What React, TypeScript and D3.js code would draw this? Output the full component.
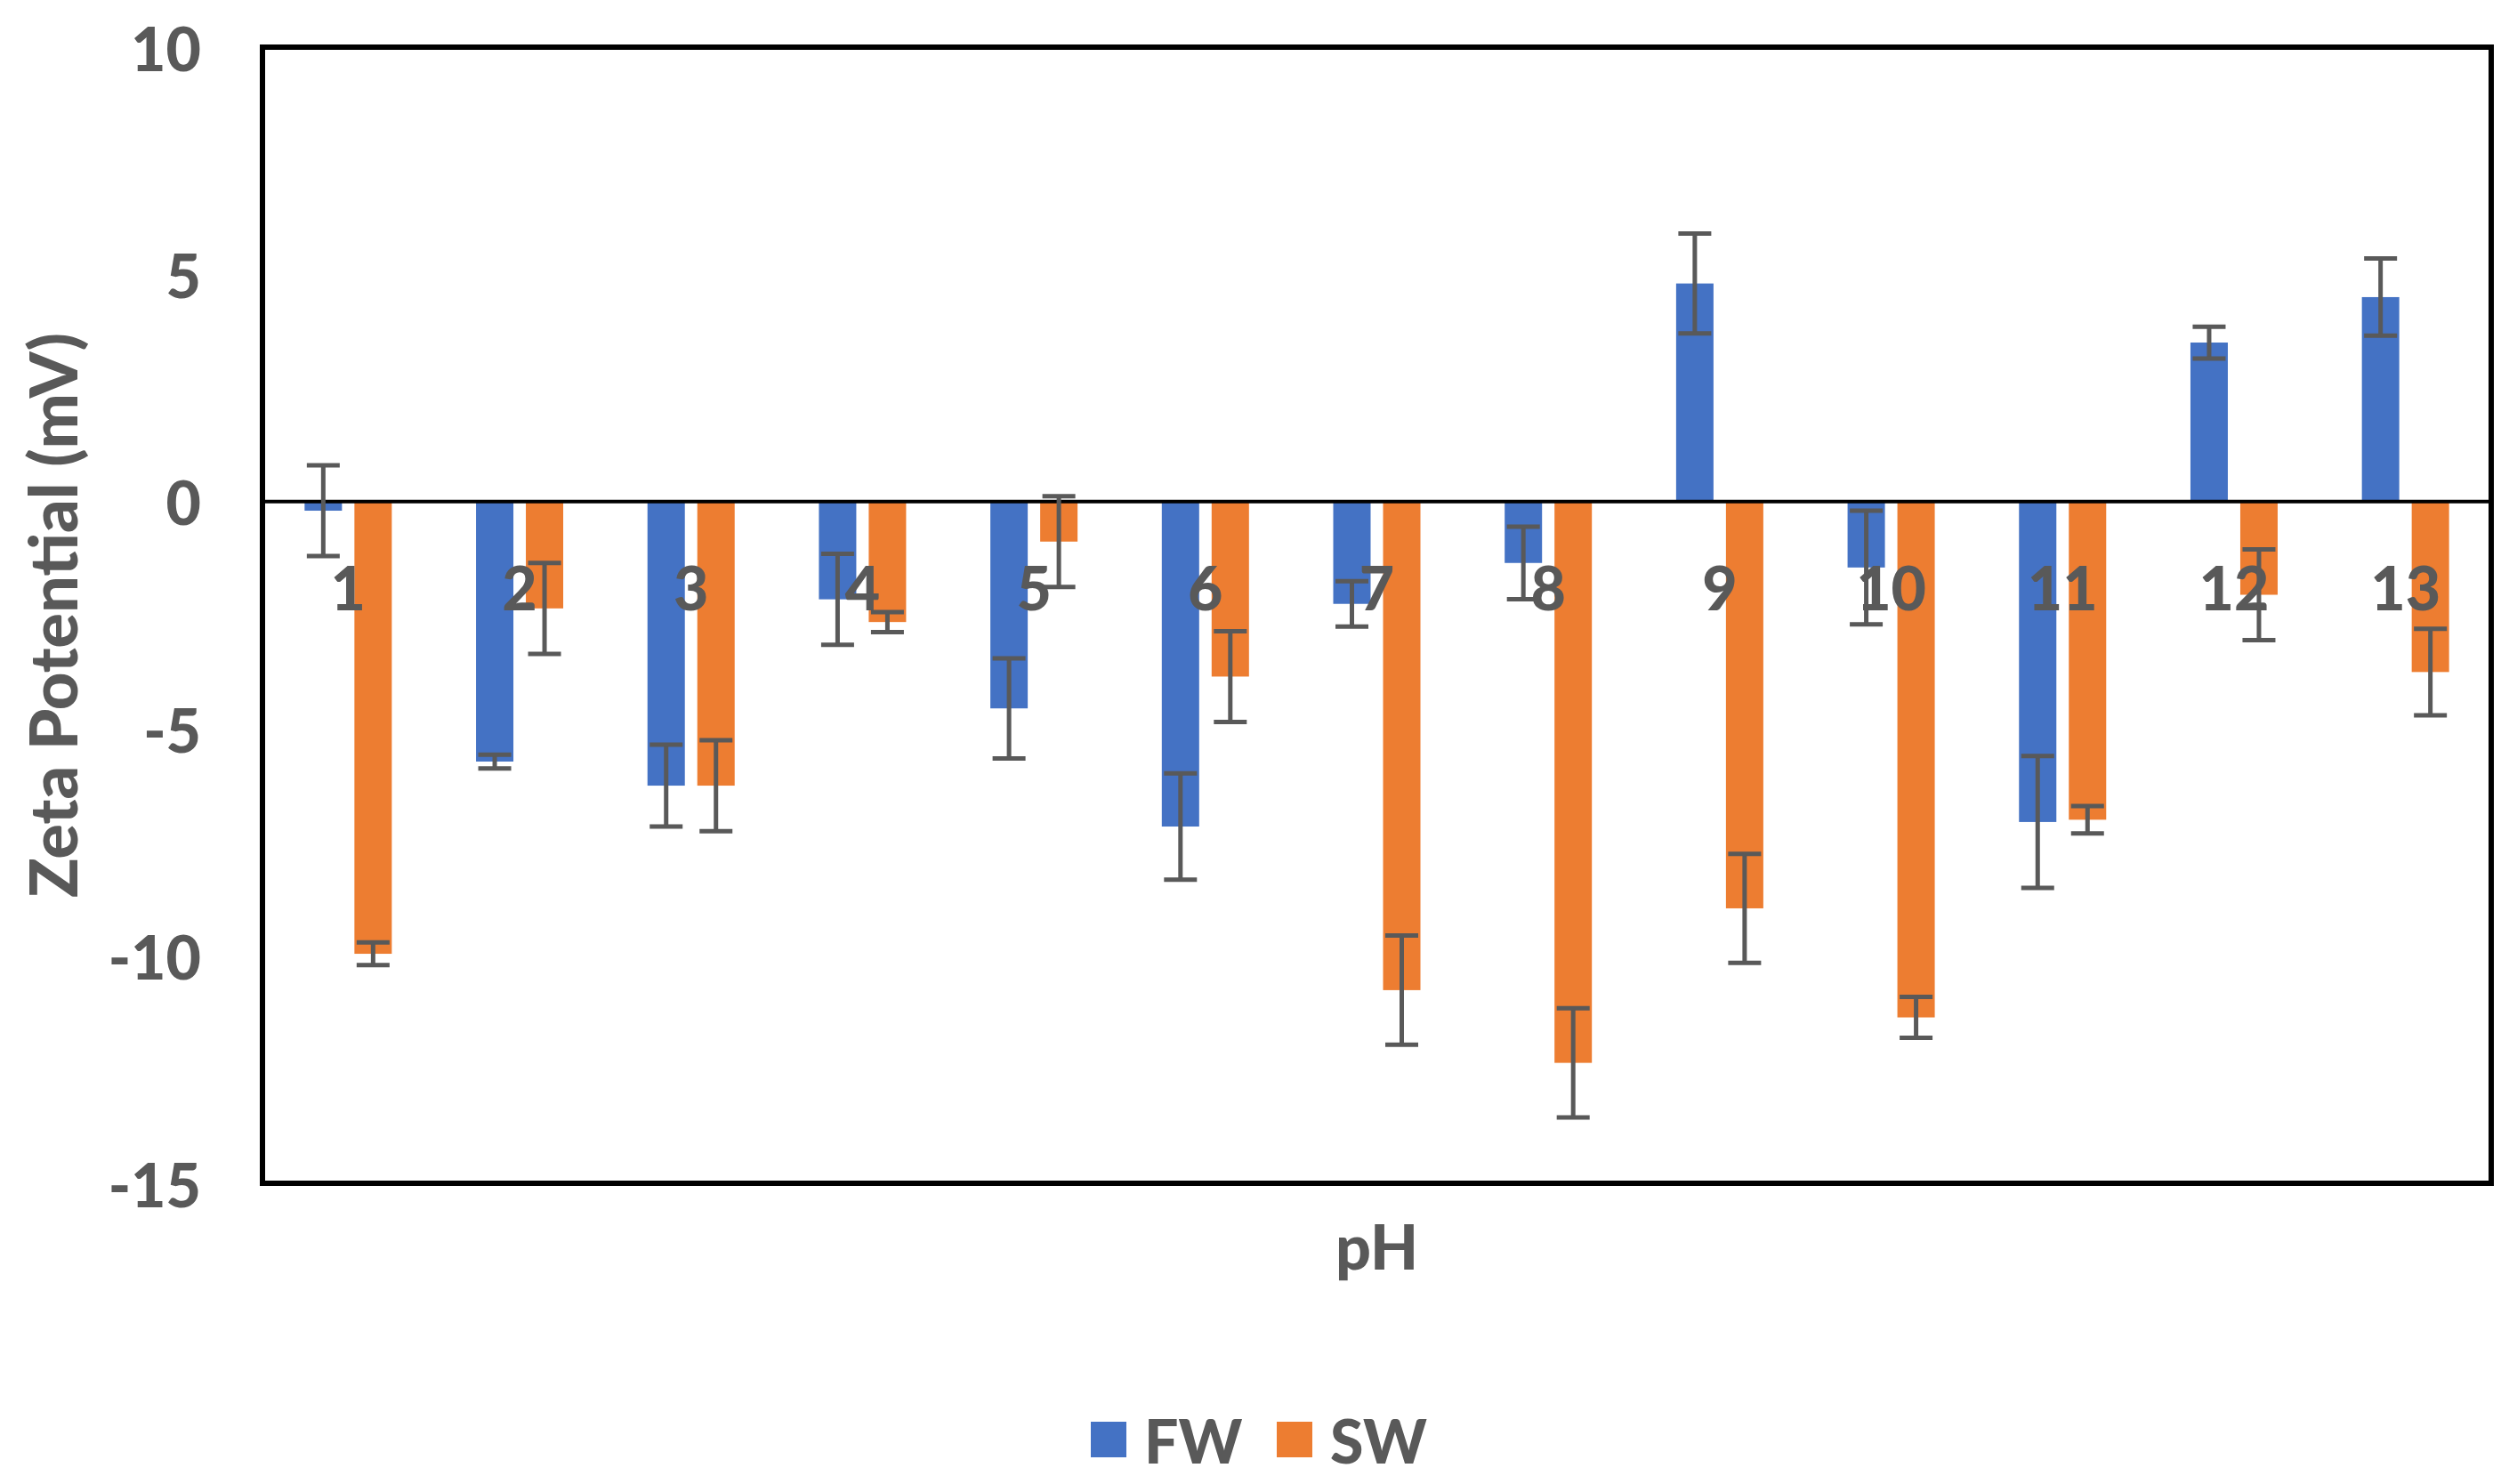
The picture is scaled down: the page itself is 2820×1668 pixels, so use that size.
import { useMemo } from 'react';
import { scaleBand, scaleLinear } from 'd3';

const categories = ['1', '2', '3', '4', '5', '6', '7', '8', '9', '10', '11', '12', '13'];
const series = ['FW', 'SW'];

const fwValues = [-0.2, -5.72, -6.25, -2.15, -4.55, -7.15, -2.25, -1.35, 4.8, -1.45, -7.05, 3.5, 4.5];
const fwErrors = [1.0, 0.15, 0.9, 1.0, 1.1, 1.17, 0.5, 0.8, 1.1, 1.25, 1.45, 0.35, 0.85];
const swValues = [-9.95, -2.35, -6.25, -2.65, -0.88, -3.85, -10.75, -12.35, -8.95, -11.35, -7.0, -2.05, -3.75];
const swErrors = [0.25, 1.0, 1.0, 0.22, 1.0, 1.0, 1.2, 1.2, 1.2, 0.45, 0.3, 1.0, 0.95];

const yTicks = [-15, -10, -5, 0, 5, 10];

const colors = { FW: '#4472C4', SW: '#ED7D31' };
const textColor = '#595959';
const font = 'Lato, "Open Sans", sans-serif';

const W = 2820,
  H = 1668;
const plot = { left: 295, right: 2800, top: 53, bottom: 1330 };

export default function App() {
  const x = useMemo(
    () => scaleBand().domain(categories).range([plot.left, plot.right]).padding(0),
    []
  );
  const x1 = useMemo(
    () => scaleBand().domain(series).range([-49, 49]).paddingInner(0.25).paddingOuter(0),
    []
  );
  const y = useMemo(
    () => scaleLinear().domain([-15, 10]).range([plot.bottom, plot.top]),
    []
  );

  const rows = series.map((s) => ({
    key: s,
    values: s === 'FW' ? fwValues : swValues,
    errors: s === 'FW' ? fwErrors : swErrors,
  }));

  const cap = 37;

  return (
    <svg
      width={W}
      height={H}
      style={{ position: 'absolute', left: 0, top: 0, background: '#fff' }}
      fontFamily={font}
      fontWeight={900}
    >
      <rect x={0} y={0} width={W} height={H} fill="#fff" />

      {/* bars */}
      {rows.map((r) =>
        categories.map((c, i) => {
          const v = r.values[i];
          const bx = (x(c) as number) + x.bandwidth() / 2 + (x1(r.key) as number);
          return (
            <rect
              key={r.key + c}
              x={bx}
              y={Math.min(y(v), y(0))}
              width={x1.bandwidth()}
              height={Math.abs(y(v) - y(0))}
              fill={colors[r.key as 'FW' | 'SW']}
            />
          );
        })
      )}

      {/* zero line */}
      <line x1={plot.left} x2={plot.right} y1={y(0)} y2={y(0)} stroke="#000" strokeWidth={4} />

      {/* category labels */}
      {categories.map((c) => (
        <text
          key={c}
          x={(x(c) as number) + x.bandwidth() / 2}
          y={y(0) + 96}
          textAnchor="middle"
          dominantBaseline="central"
          fontSize={68}
          fill={textColor}
        >
          {c}
        </text>
      ))}

      {/* error bars */}
      {rows.map((r) =>
        categories.map((c, i) => {
          const v = r.values[i];
          const e = r.errors[i];
          const cx =
            (x(c) as number) + x.bandwidth() / 2 + (x1(r.key) as number) + x1.bandwidth() / 2;
          return (
            <g key={'e' + r.key + c} stroke="#595959" strokeWidth={5}>
              <line x1={cx} x2={cx} y1={y(v + e)} y2={y(v - e)} />
              <line x1={cx - cap / 2} x2={cx + cap / 2} y1={y(v + e)} y2={y(v + e)} />
              <line x1={cx - cap / 2} x2={cx + cap / 2} y1={y(v - e)} y2={y(v - e)} />
            </g>
          );
        })
      )}

      {/* plot border */}
      <rect
        x={plot.left}
        y={plot.top}
        width={plot.right - plot.left}
        height={plot.bottom - plot.top}
        fill="none"
        stroke="#000"
        strokeWidth={6}
      />

      {/* y ticks */}
      {yTicks.map((t) => (
        <text
          key={t}
          x={226}
          y={y(t)}
          textAnchor="end"
          dominantBaseline="central"
          fontSize={68}
          fill={textColor}
        >
          {t}
        </text>
      ))}

      <text
        transform={`translate(58,${(plot.top + plot.bottom) / 2}) rotate(-90)`}
        textAnchor="middle"
        dominantBaseline="central"
        fontSize={74}
        fill={textColor}
      >
        Zeta Potential (mV)
      </text>

      <text
        x={(plot.left + plot.right) / 2}
        y={1400}
        textAnchor="middle"
        dominantBaseline="central"
        fontSize={70}
        fill={textColor}
      >
        pH
      </text>

      {/* legend */}
      {series.map((s, i) => (
        <g key={s} transform={`translate(${1226 + i * 209},1618)`}>
          <rect x={0} y={-20} width={40} height={40} fill={colors[s as 'FW' | 'SW']} />
          <text x={60} y={0} dominantBaseline="central" fontSize={68} fill={textColor}>
            {s}
          </text>
        </g>
      ))}
    </svg>
  );
}
